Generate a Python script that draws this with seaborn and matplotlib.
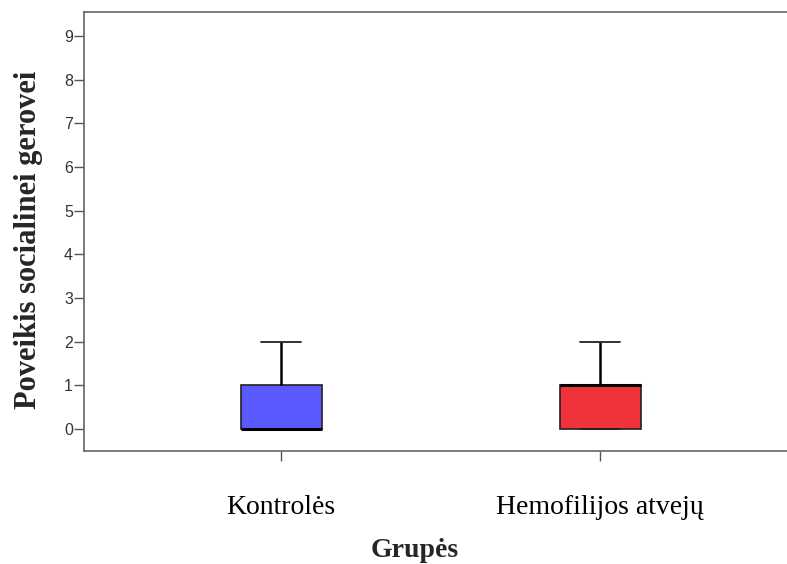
import matplotlib
matplotlib.use("Agg")
import matplotlib.pyplot as plt
import seaborn as sns
import pandas as pd

groups = ["Kontrolės", "Hemofilijos atvejų"]
kontroles = [0, 0, 0, 0, 0, 0, 1, 1, 1, 2]
hemofilijos = [0, 0, 0, 1, 1, 1, 1, 1, 2]
colors = ["#5a5aff", "#f0323a"]
yticks = list(range(0, 10))

df = pd.DataFrame({
    "Grupės": [groups[0]] * len(kontroles) + [groups[1]] * len(hemofilijos),
    "val": kontroles + hemofilijos,
})

sns.set_style("white")
fig = plt.figure(figsize=(7.87, 5.64), dpi=100)
ax = fig.add_axes([84/787, 1-451/564, 1-84/787, (451-12)/564])

sns.boxplot(data=df, x="Grupės", y="val", hue="Grupės", order=groups, hue_order=groups,
            palette=colors, width=0.254, whis=1.5, showfliers=False, legend=False,
            saturation=1, ax=ax,
            boxprops=dict(edgecolor="#222222", linewidth=1.2),
            whiskerprops=dict(color="black", linewidth=1.8),
            capprops=dict(color="#222222", linewidth=1.3),
            medianprops=dict(color="black", linewidth=2.2))

ax.set_xlim(-0.6176, 1.586)
ax.set_ylim(-0.5, 9.55)
ax.set_yticks(yticks)
ax.set_yticklabels([str(t) for t in yticks], fontfamily="Liberation Sans", fontsize=11.5, color="#333333")
ax.set_xticks([0, 1])
ax.set_xticklabels(groups, fontfamily="Liberation Serif", fontsize=20, color="black")
ax.tick_params(axis="y", direction="out", length=7, width=1, color="#555555", pad=1, left=True)
ax.tick_params(axis="x", direction="out", length=7, width=1, color="#555555", pad=25, bottom=True)

for s in ["left", "bottom", "top"]:
    ax.spines[s].set_color("#666666")
    ax.spines[s].set_linewidth(1.2)
ax.spines["right"].set_visible(False)

ax.set_xlabel("Grupės", fontfamily="Liberation Serif", fontsize=20, fontweight="bold")
ax.xaxis.set_label_coords(0.47, -0.198)
ax.set_ylabel("Poveikis socialinei gerovei", fontfamily="Liberation Serif", fontsize=22,
              fontweight="bold")
ax.yaxis.set_label_coords(-0.058, 0.48)

fig.savefig("out.png", dpi=100)
